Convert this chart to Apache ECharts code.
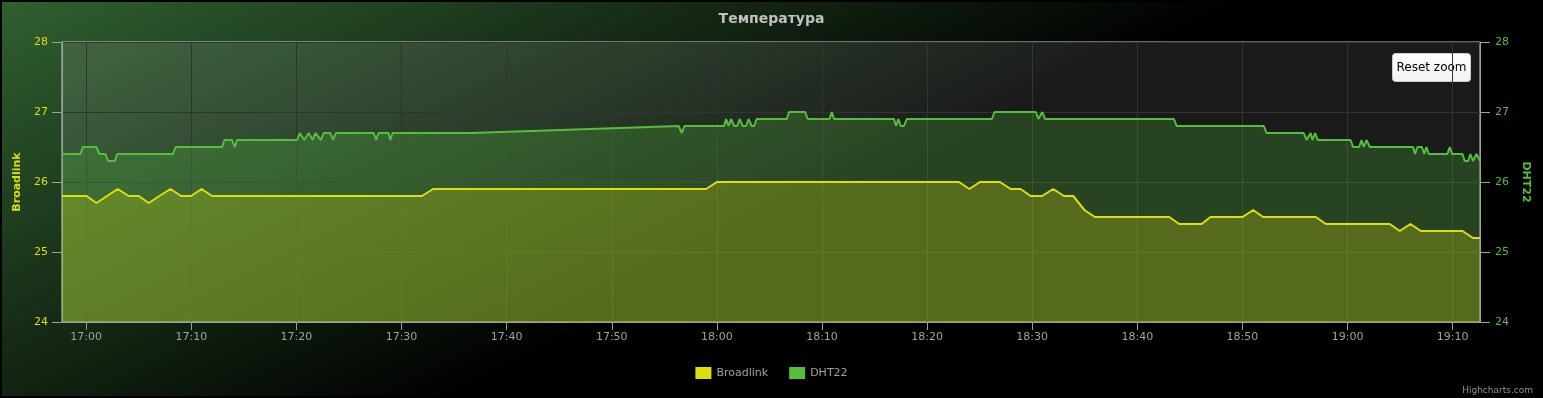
<!DOCTYPE html>
<html>
<head>
<meta charset="utf-8">
<script src="https://cdn.jsdelivr.net/npm/echarts@6/dist/echarts.min.js"></script>
<style>
html,body{margin:0;padding:0;background:#000;}
#c{width:1543px;height:398px;}
</style>
</head>
<body>
<div id="c"></div>
<script>
const titleText = 'Температура';
const seriesNames = ['Broadlink', 'DHT22'];
const yTicks = [24, 25, 26, 27, 28];
const xTickLabels = ['17:00','17:10','17:20','17:30','17:40','17:50','18:00','18:10','18:20','18:30','18:40','18:50','19:00','19:10'];

const broadlinkTimes = ['16:57:42','17:00:02','17:00:59','17:01:59','17:03:00','17:04:03','17:05:00','17:05:57','17:06:58','17:08:01','17:09:02','17:09:59','17:10:58','17:11:59','17:31:57','17:33:00','17:58:59','18:00:00','18:23:02','18:24:01','18:25:02','18:26:56','18:27:57','18:28:54','18:29:51','18:30:56','18:32:00','18:33:01','18:33:54','18:34:58','18:35:58','18:43:02','18:43:59','18:46:07','18:46:58','18:50:01','18:51:01','18:51:58','18:56:59','18:57:56','19:04:01','19:04:58','19:05:59','19:06:58','19:10:56','19:11:56','19:12:36'];
const broadlinkValues = [25.8,25.8,25.7,25.8,25.9,25.8,25.8,25.7,25.8,25.9,25.8,25.8,25.9,25.8,25.8,25.9,25.9,26.0,26.0,25.9,26.0,26.0,25.9,25.9,25.8,25.8,25.9,25.8,25.8,25.6,25.5,25.5,25.4,25.4,25.5,25.5,25.6,25.5,25.5,25.4,25.4,25.3,25.4,25.3,25.3,25.2,25.2];

const dht22Times = ['16:57:42','16:59:27','16:59:41','17:00:59','17:01:16','17:01:50','17:02:06','17:02:43','17:02:57','17:08:16','17:08:30','17:12:56','17:13:09','17:13:53','17:14:08','17:14:21','17:20:04','17:20:19','17:20:45','17:21:10','17:21:33','17:21:48','17:22:20','17:22:36','17:23:14','17:23:29','17:23:45','17:27:21','17:27:35','17:27:49','17:28:46','17:28:56','17:29:09','17:36:42','17:56:22','17:56:40','17:56:55','18:00:41','18:00:53','18:01:07','18:01:21','18:01:39','18:01:56','18:02:10','18:02:27','18:02:47','18:03:01','18:03:18','18:03:33','18:03:47','18:06:39','18:06:52','18:08:24','18:08:39','18:10:42','18:10:56','18:11:09','18:16:51','18:17:03','18:17:16','18:17:30','18:17:48','18:18:04','18:26:10','18:26:25','18:30:21','18:30:35','18:30:58','18:31:13','18:43:29','18:43:44','18:52:02','18:52:18','18:55:50','18:56:06','18:56:16','18:56:29','18:56:40','18:56:55','18:57:10','19:00:17','19:00:32','19:01:06','19:01:20','19:01:33','19:01:48','19:02:07','19:06:14','19:06:25','19:06:39','19:07:04','19:07:18','19:07:30','19:07:44','19:09:30','19:09:43','19:09:57','19:10:56','19:11:09','19:11:28','19:11:41','19:11:56','19:12:16','19:12:36'];
const dht22Values = [26.4,26.4,26.5,26.5,26.4,26.4,26.3,26.3,26.4,26.4,26.5,26.5,26.6,26.6,26.5,26.6,26.6,26.7,26.6,26.7,26.6,26.7,26.6,26.7,26.7,26.6,26.7,26.7,26.6,26.7,26.7,26.6,26.7,26.7,26.8,26.7,26.8,26.8,26.9,26.8,26.9,26.8,26.8,26.9,26.8,26.8,26.9,26.8,26.8,26.9,26.9,27.0,27.0,26.9,26.9,27.0,26.9,26.9,26.8,26.9,26.8,26.8,26.9,26.9,27.0,27.0,26.9,27.0,26.9,26.9,26.8,26.8,26.7,26.7,26.6,26.6,26.7,26.6,26.7,26.6,26.6,26.5,26.5,26.6,26.5,26.6,26.5,26.5,26.4,26.5,26.5,26.4,26.5,26.4,26.4,26.5,26.4,26.4,26.3,26.3,26.4,26.3,26.4,26.3];

// seconds since midnight
function ts(s){ const p = s.split(':').map(Number); return p[0]*3600 + p[1]*60 + (p[2]||0); }
function pairs(times, vals){ return times.map((t,i)=>[ts(t), vals[i]]); }
function hhmm(v){ const h = Math.floor(v/3600), m = Math.round((v - h*3600)/60); return (h<10?'0':'')+h+':'+(m<10?'0':'')+m; }

const xTickValues = xTickLabels.map(ts);
const colors = ['#DDDF0D', '#55BF3B'];
const FONT = 'DejaVu Sans';
const chart = echarts.init(document.getElementById('c'), null, {renderer:'canvas'});

chart.setOption({
  animation: false,
  backgroundColor: {type:'linear', x:0, y:0, x2:250, y2:500, global:true,
    colorStops:[{offset:0, color:'rgb(48,96,48)'},{offset:1, color:'rgb(0,0,0)'}]},
  color: colors,
  title: {text: titleText, left: 'center', top: 7,
    textStyle:{color:'#C0C0C0', fontSize:14, fontWeight:'bold', fontFamily:FONT}},
  grid: {left:62, right:63, top:42, bottom:76, show:true,
    backgroundColor:'rgba(255,255,255,0.1)', borderColor:'#CCCCCC', borderWidth:1},
  legend: {bottom: 14, left:'center', icon:'rect', itemWidth:16, itemHeight:12, itemGap:21,
    textStyle:{color:'#A0A0A0', fontSize:11, fontFamily:FONT},
    data: seriesNames},
  xAxis: {type:'value', min: ts(dht22Times[0]), max: ts(dht22Times[dht22Times.length-1]),
    axisLine:{show:true, lineStyle:{color:'#A0A0A0', width:1}},
    axisTick:{show:true, length:8, lineStyle:{color:'#A0A0A0'}, customValues: xTickValues},
    axisLabel:{color:'#A0A0A0', fontSize:11, fontFamily:FONT, margin:10, formatter: hhmm,
      customValues: xTickValues},
    splitLine:{show:true, lineStyle:{color:'#333333', width:1}}},
  yAxis: [
    {type:'value', min:yTicks[0], max:yTicks[yTicks.length-1], interval:1, position:'left',
      name: seriesNames[0], nameLocation:'middle', nameRotate:90, nameGap:37,
      nameTextStyle:{color:colors[0], fontSize:11, fontWeight:'bold', fontFamily:FONT},
      axisLine:{show:true, lineStyle:{color:'#A0A0A0'}},
      axisTick:{show:true, length:10, lineStyle:{color:'#A0A0A0'}},
      axisLabel:{color:colors[0], fontSize:11, fontFamily:FONT, margin:14},
      splitLine:{show:true, lineStyle:{color:'#333333'}}},
    {type:'value', min:yTicks[0], max:yTicks[yTicks.length-1], interval:1, position:'right',
      name: seriesNames[1], nameLocation:'middle', nameRotate:-90, nameGap:34,
      nameTextStyle:{color:colors[1], fontSize:11, fontWeight:'bold', fontFamily:FONT},
      axisLine:{show:true, lineStyle:{color:'#A0A0A0'}},
      axisTick:{show:true, length:10, lineStyle:{color:'#A0A0A0'}},
      axisLabel:{color:colors[1], fontSize:11, fontFamily:FONT, margin:15},
      splitLine:{show:false}}
  ],
  series: [
    {name: seriesNames[0], type:'line', yAxisIndex:0, data: pairs(broadlinkTimes, broadlinkValues),
      showSymbol:false, symbol:'none', lineStyle:{width:2, color:colors[0]}, itemStyle:{color:colors[0]},
      areaStyle:{color:colors[0], opacity:0.25, origin:'start'}, z:3},
    {name: seriesNames[1], type:'line', yAxisIndex:1, data: pairs(dht22Times, dht22Values),
      showSymbol:false, symbol:'none', lineStyle:{width:2, color:colors[1]}, itemStyle:{color:colors[1]},
      areaStyle:{color:colors[1], opacity:0.25, origin:'start'}, z:2}
  ],
  graphic: [
    {type:'rect', shape:{x:1, y:1, width:1541, height:396}, style:{fill:null, stroke:'#000', lineWidth:2}, z:100},
    {type:'group', left:1392, top:53, z:100, children:[
      {type:'rect', shape:{x:0, y:0, width:78, height:28, r:3},
        style:{fill:{type:'linear', x:0, y:0, x2:0, y2:1, colorStops:[{offset:0,color:'#FFFFFF'},{offset:1,color:'#F2F2F2'}]}, stroke:'#CCCCCC', lineWidth:1}},
      {type:'text', x:39, y:14, style:{text:'Reset zoom', fill:'#000', font:'12px "DejaVu Sans"', align:'center', verticalAlign:'middle'}}
    ]},
    {type:'text', right:10, bottom:3, z:100, style:{text:'Highcharts.com', fill:'#909090', font:'9px "DejaVu Sans"'}}
  ]
});
</script>
</body>
</html>
